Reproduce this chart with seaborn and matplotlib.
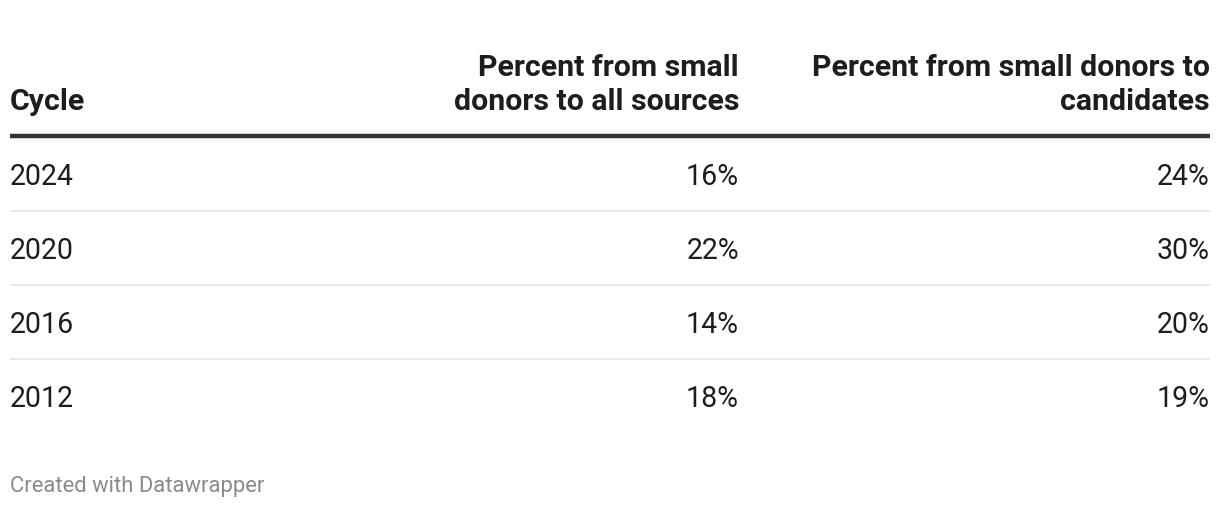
import matplotlib
matplotlib.use("Agg")
import matplotlib.pyplot as plt
import seaborn as sns

# ---- data ----
cycles = ["2024", "2020", "2016", "2012"]
pct_all_sources = [16, 22, 14, 18]
pct_candidates = [24, 30, 20, 19]
headers = ["Cycle",
           "Percent from small\ndonors to all sources",
           "Percent from small donors to\ncandidates"]
footer = "Created with Datawrapper"

sns.set_theme(style="white")
plt.rcParams["font.family"] = ["Roboto", "DejaVu Sans"]

W, H = 1220, 508
fig = plt.figure(figsize=(W / 100, H / 100), dpi=100)
ax = fig.add_axes([0, 0, 1, 1])
ax.set_xlim(0, W)
ax.set_ylim(H, 0)
ax.axis("off")

left, right = 10, 1210
col_x = [10, 739, 1210]
col_ha = ["left", "right", "right"]
text_color = "#1d1d1d"
body_px = 28.5
head_px = 30.3
px2pt = 0.72

# header
for x, ha, h in zip(col_x, col_ha, headers):
    ax.text(x, 110, h, ha=ha, va="baseline", fontsize=head_px * px2pt,
            fontweight="bold", color=text_color, linespacing=1.28,
            multialignment=ha)
ax.hlines(136, left, right, color="#333333", linewidth=3.2)

# rows
row_base0 = 185
row_step = 74
for i, (c, a, b) in enumerate(zip(cycles, pct_all_sources, pct_candidates)):
    yb = row_base0 + i * row_step
    ax.text(col_x[0], yb, c, ha="left", va="baseline",
            fontsize=body_px * px2pt, color=text_color)
    ax.text(col_x[1], yb, f"{a}%", ha="right", va="baseline",
            fontsize=body_px * px2pt, color=text_color)
    ax.text(col_x[2], yb, f"{b}%", ha="right", va="baseline",
            fontsize=body_px * px2pt, color=text_color)
    if i < len(cycles) - 1:
        ax.hlines(yb + 26, left, right, color="#e5e5e5", linewidth=1.2)

ax.text(10, 492, footer, ha="left", va="baseline",
        fontsize=22 * px2pt, color="#8a8a8a")

fig.savefig("out.png", dpi=100, facecolor="white")
